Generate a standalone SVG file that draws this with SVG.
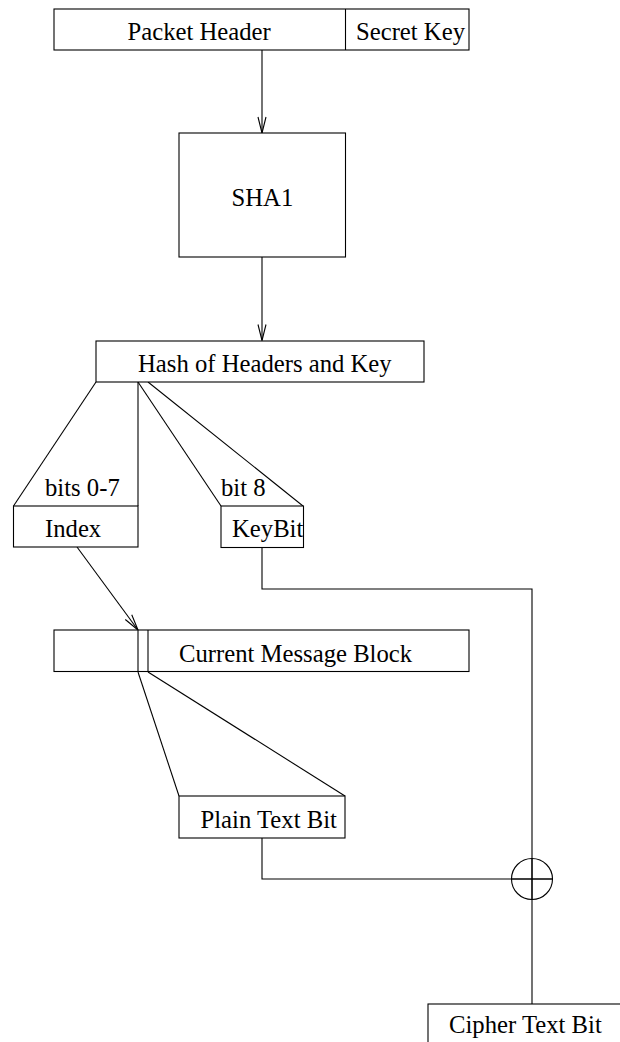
<svg xmlns="http://www.w3.org/2000/svg" width="620" height="1042" viewBox="0 0 620 1042">
<style>
.b{fill:#fff;stroke:#000;stroke-width:1.1}
.l{fill:none;stroke:#000;stroke-width:1.1}
text{font-family:"Liberation Serif","Times New Roman",serif;font-size:24.7px;fill:#000}
</style>
<defs>
<marker id="ah" markerUnits="userSpaceOnUse" markerWidth="20" markerHeight="12" refX="0" refY="0" viewBox="-18 -6 20 12" orient="auto" overflow="visible">
<path d="M-16,-4 L0,0 L-16,4" fill="none" stroke="#000" stroke-width="1.1"/>
</marker>
</defs>
<rect width="620" height="1042" fill="#fff"/>
<g id="connectors">
<line class="l" x1="262" y1="50" x2="262" y2="133" marker-end="url(#ah)"/>
<line class="l" x1="262" y1="257" x2="262" y2="340.5" marker-end="url(#ah)"/>
<line class="l" x1="96" y1="382" x2="13.5" y2="506"/>
<line class="l" x1="138" y1="382" x2="138" y2="506"/>
<line class="l" x1="138" y1="382" x2="221" y2="506"/>
<line class="l" x1="148" y1="382" x2="303" y2="506"/>
<line class="l" x1="77" y1="547" x2="138" y2="630" marker-end="url(#ah)"/>
<line class="l" x1="138" y1="672" x2="179" y2="796"/>
<line class="l" x1="148" y1="672" x2="345" y2="796"/>
<polyline class="l" points="262,548 262,589 532,589 532,1004"/>
<polyline class="l" points="262,838 262,879 553,879"/>
</g>
<g id="header">
<rect class="b" x="54" y="9" width="415" height="41"/>
<line class="l" x1="345.5" y1="9" x2="345.5" y2="50"/>
<text x="127.5" y="40">Packet Header</text>
<text x="356" y="40">Secret Key</text>
</g>
<g id="sha1">
<rect class="b" x="179" y="133" width="166.5" height="124"/>
<text x="231.5" y="206">SHA1</text>
</g>
<g id="hash">
<rect class="b" x="96" y="341" width="328" height="41"/>
<text x="138" y="371.5">Hash of Headers and Key</text>
</g>
<g id="index">
<text x="45" y="496">bits 0-7</text>
<rect class="b" x="13.5" y="506" width="124.5" height="41"/>
<text x="45" y="537">Index</text>
</g>
<g id="keybit">
<text x="221" y="496">bit 8</text>
<rect class="b" x="221" y="506" width="82.5" height="41.5"/>
<text x="232" y="537">KeyBit</text>
</g>
<g id="message-block">
<rect class="b" x="54" y="630" width="415" height="41.5"/>
<line class="l" x1="138" y1="630" x2="138" y2="671.5"/>
<line class="l" x1="148" y1="630" x2="148" y2="671.5"/>
<text x="179" y="661.5">Current Message Block</text>
</g>
<g id="plaintext">
<rect class="b" x="179" y="796" width="166" height="42"/>
<text x="200.5" y="827.5">Plain Text Bit</text>
</g>
<g id="xor">
<circle class="l" cx="532" cy="879" r="20.5"/>
<line class="l" x1="511.5" y1="879" x2="552.5" y2="879"/>
<line class="l" x1="532" y1="858.5" x2="532" y2="899.5"/>
</g>
<g id="ciphertext">
<rect class="b" x="428" y="1004" width="220" height="60"/>
<text x="449" y="1033">Cipher Text Bit</text>
</g>
</svg>
